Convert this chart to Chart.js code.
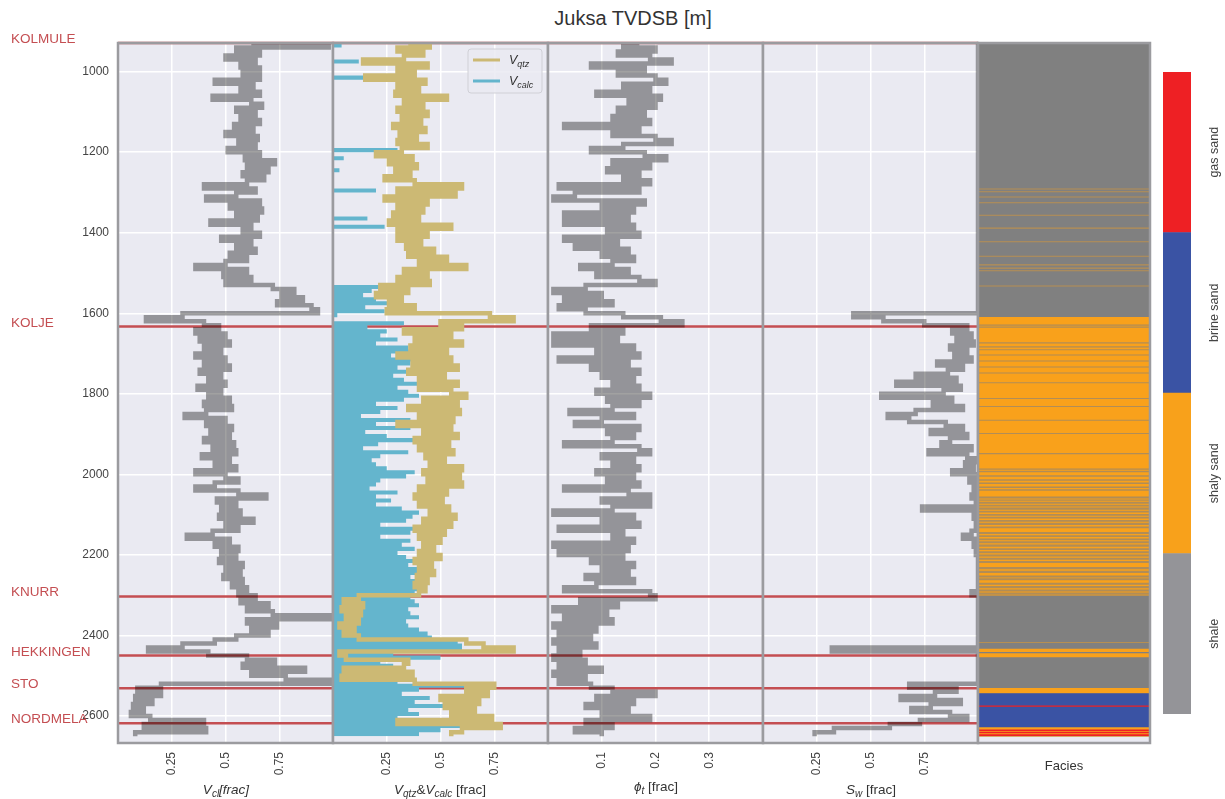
<!DOCTYPE html>
<html>
<head>
<meta charset="utf-8">
<title>Juksa TVDSB</title>
<script src="https://cdn.jsdelivr.net/npm/chart.js@4.4.1/dist/chart.umd.min.js"></script>
<style>
  body { margin: 0; background: #ffffff; }
  #page { position: relative; width: 1225px; height: 799px; overflow: hidden; font-family: "Liberation Sans", Arial, sans-serif; }
  #page canvas { position: absolute; top: 0; }
  .txt { position: absolute; color: #333333; font-size: 13.5px; white-space: nowrap; transform: translate(-50%, -50%); }
  .txt sub { font-size: 10px; vertical-align: -3px; }
  #title { font-size: 20px; color: #333333; }
</style>
</head>
<body>
<div id="page">
  <div id="title" class="txt" style="left:633px; top:18px;">Juksa TVDSB [m]</div>

  <canvas id="trackVcl" width="337" height="799" style="left:0px;"></canvas>
  <canvas id="trackVmin" width="223" height="799" style="left:329px;"></canvas>
  <canvas id="trackPhi" width="223" height="799" style="left:544px;"></canvas>
  <canvas id="trackSw" width="223" height="799" style="left:759px;"></canvas>
  <canvas id="trackFacies" width="180" height="799" style="left:974px;"></canvas>
  <canvas id="faciesBar" width="75" height="799" style="left:1150px;"></canvas>

  <div class="txt" style="left:226px; top:790px;"><i>V</i><sub><i>cl</i></sub><i>[frac]</i></div>
  <div class="txt" style="left:440px; top:790px;"><i>V</i><sub><i>qtz</i></sub>&amp;<i>V</i><sub><i>calc</i></sub> [frac]</div>
  <div class="txt" style="left:656px; top:787px;"><i>ϕ</i><sub><i>t</i></sub> [frac]</div>
  <div class="txt" style="left:871px; top:790px;"><i>S</i><sub><i>w</i></sub> [frac]</div>
  <div class="txt" style="left:1064px; top:765px; font-size:13px;">Facies</div>
</div>

<script>
// === DỮ LIỆU ===
// depth sampling of the logs (m, TVDSB): first sample and spacing
const DEPTH_TOP = 930;
const DEPTH_STEP = 10;
const DEPTH_MIN = 929;
const DEPTH_MAX = 2667;
const DEPTH_TICKS = [1000, 1200, 1400, 1600, 1800, 2000, 2200, 2400, 2600];
const FRAC_TICKS = [0.25, 0.5, 0.75];
const PHI_TICKS = [0.1, 0.2, 0.3];

const FORMATION_NAMES = ['KOLMULE', 'KOLJE', 'KNURR', 'HEKKINGEN', 'STO', 'NORDMELA'];
const FORMATION_TOPS = [929, 1633, 2303, 2450, 2531, 2618];

// clay volume, 930 m .. 2650 m
const VCL = [
  0.62, 0.98, 0.55, 0.66, 0.50, 0.64, 0.57, 0.66, 0.58, 0.66,
  0.45, 0.63, 0.57, 0.66, 0.44, 0.62, 0.67, 0.55, 0.64, 0.57,
  0.66, 0.54, 0.63, 0.50, 0.65, 0.56, 0.64, 0.51, 0.66, 0.59,
  0.73, 0.60, 0.70, 0.58, 0.68, 0.60, 0.40, 0.64, 0.55, 0.41,
  0.66, 0.52, 0.67, 0.55, 0.65, 0.43, 0.62, 0.58, 0.66, 0.48,
  0.62, 0.55, 0.64, 0.52, 0.60, 0.50, 0.36, 0.60, 0.49, 0.62,
  0.50, 0.72, 0.82, 0.76, 0.86, 0.74, 0.90, 0.93, 0.30, 0.13,
  0.40, 0.47, 0.36, 0.50, 0.38, 0.52, 0.40, 0.48, 0.36, 0.50,
  0.40, 0.52, 0.38, 0.48, 0.42, 0.50, 0.37, 0.48, 0.42, 0.52,
  0.40, 0.53, 0.41, 0.31, 0.50, 0.41, 0.53, 0.43, 0.52, 0.40,
  0.54, 0.44, 0.55, 0.39, 0.52, 0.45, 0.55, 0.36, 0.50, 0.56,
  0.45, 0.36, 0.56, 0.69, 0.46, 0.55, 0.48, 0.57, 0.47, 0.63,
  0.50, 0.56, 0.44, 0.32, 0.52, 0.45, 0.56, 0.48, 0.55, 0.47,
  0.58, 0.50, 0.57, 0.49, 0.58, 0.53, 0.60, 0.56, 0.64, 0.57,
  0.70, 0.60, 0.72, 1.00, 0.60, 0.74, 0.62, 0.70, 0.55, 0.45,
  0.30, 0.14, 0.42, 0.60, 0.73, 0.58, 0.87, 0.62, 0.78, 1.00,
  0.20, 0.09, 0.20, 0.08, 0.16, 0.07, 0.12, 0.06, 0.15, 0.40,
  0.12, 0.41, 0.08
];

// quartz volume
const VQTZ = [
  0.35, 0.45, 0.30, 0.42, 0.33, 0.14, 0.44, 0.30, 0.38, 0.15,
  0.43, 0.30, 0.40, 0.29, 0.53, 0.33, 0.42, 0.30, 0.44, 0.32,
  0.41, 0.28, 0.43, 0.31, 0.39, 0.30, 0.44, 0.32, 0.20, 0.37,
  0.26, 0.39, 0.29, 0.36, 0.24, 0.38, 0.60, 0.30, 0.57, 0.24,
  0.44, 0.30, 0.42, 0.28, 0.40, 0.26, 0.55, 0.30, 0.44, 0.30,
  0.41, 0.34, 0.47, 0.35, 0.53, 0.40, 0.62, 0.33, 0.44, 0.30,
  0.45, 0.22, 0.35, 0.20, 0.32, 0.26, 0.38, 0.25, 0.73, 0.84,
  0.50, 0.60, 0.33, 0.55, 0.38, 0.60, 0.36, 0.53, 0.30, 0.55,
  0.37, 0.58, 0.35, 0.52, 0.40, 0.58, 0.40, 0.55, 0.62, 0.42,
  0.58, 0.35, 0.59, 0.40, 0.56, 0.30, 0.55, 0.42, 0.58, 0.38,
  0.54, 0.40, 0.56, 0.43, 0.52, 0.45, 0.60, 0.42, 0.59, 0.44,
  0.60, 0.40, 0.53, 0.38, 0.51, 0.40, 0.54, 0.45, 0.57, 0.42,
  0.55, 0.38, 0.52, 0.40, 0.50, 0.42, 0.47, 0.40, 0.50, 0.38,
  0.46, 0.40, 0.47, 0.39, 0.44, 0.38, 0.43, 0.40, 0.12, 0.05,
  0.14, 0.04, 0.13, 0.06, 0.12, 0.03, 0.10, 0.05, 0.12, 0.62,
  0.70, 0.84, 0.03, 0.06, 0.35, 0.33, 0.05, 0.37, 0.04, 0.38,
  0.75, 0.62, 0.72, 0.50, 0.68, 0.52, 0.66, 0.55, 0.74, 0.30,
  0.78, 0.60, 0.55
];

// calcite volume
const VCALC = [
  0, 0.04, 0, 0, 0, 0.12, 0, 0, 0, 0.15,
  0, 0, 0, 0, 0, 0, 0, 0, 0, 0,
  0, 0, 0, 0, 0, 0, 0, 0.30, 0, 0.05,
  0, 0, 0.03, 0, 0, 0, 0, 0.20, 0, 0,
  0, 0, 0, 0, 0.16, 0, 0.24, 0, 0, 0,
  0, 0, 0, 0, 0, 0, 0, 0, 0, 0,
  0, 0.25, 0.18, 0.14, 0.20, 0.27, 0.15, 0.24, 0.02, 0,
  0.33, 0.16, 0.25, 0.22, 0.30, 0.20, 0.35, 0.38, 0.27, 0.40,
  0.36, 0.30, 0.44, 0.28, 0.33, 0.42, 0.30, 0.35, 0.40, 0.33,
  0.20, 0.30, 0.22, 0.13, 0.36, 0.20, 0.36, 0.15, 0.25, 0.38,
  0.21, 0.14, 0.35, 0.22, 0.18, 0.20, 0.25, 0.38, 0.34, 0.22,
  0.20, 0.17, 0.30, 0.20, 0.27, 0.20, 0.32, 0.40, 0.37, 0.34,
  0.22, 0.38, 0.36, 0.22, 0.36, 0.32, 0.38, 0.30, 0.34, 0.38,
  0.35, 0.40, 0.42, 0.36, 0.40, 0.43, 0.41, 0.38, 0.36, 0.38,
  0.40, 0.35, 0.36, 0.40, 0.34, 0.35, 0.40, 0.44, 0.46, 0.58,
  0.60, 0.60, 0.28, 0.50, 0.22, 0.28, 0.30, 0.26, 0.24, 0.30,
  0.74, 0.40, 0.32, 0.45, 0.38, 0.52, 0.35, 0.40, 0.30, 0.55,
  0.62, 0.50, 0.40
];

// total porosity
const PHIT = [
  0.17, 0.14, 0.20, 0.13, 0.19, 0.23, 0.08, 0.18, 0.13, 0.20,
  0.22, 0.14, 0.19, 0.09, 0.21, 0.15, 0.20, 0.13, 0.18, 0.12,
  0.19, 0.03, 0.17, 0.12, 0.20, 0.23, 0.14, 0.08, 0.18, 0.22,
  0.12, 0.19, 0.11, 0.17, 0.14, 0.19, 0.02, 0.17, 0.05, 0.01,
  0.18, 0.10, 0.16, 0.03, 0.15, 0.03, 0.16, 0.11, 0.17, 0.03,
  0.13, 0.05, 0.15, 0.10, 0.16, 0.12, 0.06, 0.15, 0.09, 0.17,
  0.20, 0.07, 0.01, 0.10, 0.03, 0.12, 0.02, 0.07, 0.14, 0.21,
  0.25, 0.08, 0.14, 0.01, 0.13, 0.01, 0.16, 0.09, 0.17, 0.02,
  0.15, 0.08, 0.17, 0.10, 0.16, 0.12, 0.17, 0.09, 0.19, 0.11,
  0.17, 0.12, 0.04, 0.16, 0.10, 0.05, 0.17, 0.11, 0.16, 0.12,
  0.03, 0.17, 0.19, 0.10, 0.16, 0.12, 0.17, 0.09, 0.16, 0.11,
  0.17, 0.03, 0.15, 0.19, 0.10, 0.19, 0.12, 0.01, 0.16, 0.10,
  0.17, 0.02, 0.14, 0.12, 0.16, 0.01, 0.15, 0.02, 0.14, 0.08,
  0.16, 0.10, 0.15, 0.07, 0.16, 0.09, 0.03, 0.19, 0.20, 0.06,
  0.13, 0.01, 0.11, 0.03, 0.12, 0.01, 0.09, 0.02, 0.08, 0.01,
  0.09, 0.02, 0.06, 0.01, 0.07, 0.02, 0.10, 0.01, 0.07, 0.02,
  0.08, 0.12, 0.20, 0.09, 0.16, 0.07, 0.15, 0.10, 0.19, 0.07,
  0.12, 0.05, 0.10
];

// water saturation
const SW = [
  1, 1, 1, 1, 1, 1, 1, 1, 1, 1,
  1, 1, 1, 1, 1, 1, 1, 1, 1, 1,
  1, 1, 1, 1, 1, 1, 1, 1, 1, 1,
  1, 1, 1, 1, 1, 1, 1, 1, 1, 1,
  1, 1, 1, 1, 1, 1, 1, 1, 1, 1,
  1, 1, 1, 1, 1, 1, 1, 1, 1, 1,
  1, 1, 1, 1, 1, 1, 1, 1, 0.42, 0.56,
  0.75, 0.95, 0.88, 0.97, 0.90, 0.98, 0.87, 0.95, 0.89, 0.97,
  0.81, 0.93, 0.86, 0.71, 0.90, 0.62, 0.92, 0.84, 0.55, 0.88,
  0.79, 0.93, 0.71, 0.58, 0.68, 0.85, 0.93, 0.78, 0.95, 0.87,
  0.83, 0.97, 0.77, 0.95, 1, 0.94, 0.98, 0.88, 1, 0.96,
  1, 0.98, 1, 0.97, 1, 0.99, 0.74, 1, 0.98, 1,
  0.99, 1, 0.97, 0.93, 1, 0.98, 1, 0.99, 1, 1,
  1, 1, 1, 1, 1, 1, 1, 0.97, 1, 1,
  1, 1, 1, 1, 1, 1, 1, 1, 1, 1,
  1, 0.32, 1, 1, 1, 1, 1, 1, 1, 1,
  0.68, 0.90, 0.80, 0.64, 0.92, 0.78, 0.69, 0.87, 0.95, 0.73,
  0.59, 0.33, 0.24
];

// facies beds [top, base] in m
const FACIES_NAMES = ['shale', 'shaly sand', 'brine sand', 'gas sand'];
const SHALE_BEDS = [[929, 2650]];
const SHALY_SAND_STRINGERS = [
  [1291, 1292], [1298, 1299], [1311, 1312], [1325, 1326], [1356, 1357], [1388, 1389.5],
  [1422, 1423], [1458, 1459], [1479, 1480.5], [1487, 1488.5], [1494, 1495], [1532, 1533],
  [2417, 2418]
];
const SHALY_SAND_BEDS = [[1610, 2300], [2434, 2440], [2445, 2453], [2531, 2544], [2627, 2650]];
const SHALE_STREAKS = [
  [1629, 1630], [1634, 1635], [1673, 1674], [1683, 1684], [1690, 1691], [1703, 1704],
  [1718, 1719], [1733, 1734], [1748, 1749], [1772, 1773], [1811, 1812], [1831, 1832],
  [1865, 1866], [1898, 1899], [1948, 1949], [1986, 1988], [1992, 1994], [2003, 2005],
  [2013, 2015], [2021, 2023], [2031, 2033], [2038, 2040],
  [2056, 2059], [2063, 2065], [2069, 2072], [2076, 2079], [2083, 2087], [2091, 2094],
  [2099, 2102], [2106, 2109], [2114, 2117], [2121, 2125], [2130, 2133], [2144, 2147],
  [2152, 2155], [2160, 2163], [2167, 2170], [2175, 2179], [2184, 2187], [2192, 2195],
  [2200, 2203], [2208, 2211], [2216, 2219], [2231, 2235], [2240, 2244], [2252, 2255],
  [2259, 2262], [2270, 2273], [2278, 2282], [2287, 2290], [2294, 2298]
];
const BRINE_SAND_BEDS = [[2544, 2627]];
const GAS_SAND_BEDS = [[2574.5, 2576], [2634.5, 2636.5], [2640, 2642], [2646, 2649]];

// === MÀU SẮC ===
const BG_COLOR = '#EAEAF2';
const FRAME_COLOR = '#9B9B9F';
const GRID_COLOR = '#FFFFFF';
const LOG_COLOR = 'rgba(0, 0, 0, 0.37)';
const VQTZ_COLOR = '#CCB974';
const VCALC_COLOR = '#64B5CD';
const FORMATION_COLOR = '#C44E52';
const TRACK_FACIES_COLORS = ['#808080', '#F9A11B', '#3A53A4', '#EE2024'];
const STRINGER_COLOR = 'rgba(249, 161, 27, 0.45)';
const STREAK_COLOR = 'rgba(128, 128, 128, 0.6)';
const BAR_FACIES_COLORS = ['#949498', '#F8A11B', '#3A53A4', '#EE2024'];
const TEXT_COLOR = '#444444';
const FONT_FAMILY = '"Liberation Sans", Arial, sans-serif';

Chart.defaults.font.family = FONT_FAMILY;
Chart.defaults.color = TEXT_COLOR;

// === HELPER ===
const toCurve = (values) => values.map((v, i) => ({ x: v, y: DEPTH_TOP + i * DEPTH_STEP }));

const trackBackground = {
    id: 'trackBackground',
    beforeDraw(chart) {
        const { ctx, chartArea: a } = chart;
        ctx.save();
        ctx.fillStyle = BG_COLOR;
        ctx.fillRect(a.left, a.top, a.right - a.left, a.bottom - a.top);
        ctx.restore();
    }
};

const trackFrame = {
    id: 'trackFrame',
    afterDraw(chart) {
        const { ctx, chartArea: a } = chart;
        ctx.save();
        ctx.strokeStyle = FRAME_COLOR;
        ctx.lineWidth = 2.5;
        ctx.strokeRect(a.left, a.top, a.right - a.left, a.bottom - a.top);
        ctx.restore();
    }
};

// formation tops drawn under the curves
const formationLines = {
    id: 'formationLines',
    beforeDatasetsDraw(chart) {
        const { ctx, chartArea: a } = chart;
        const yScale = chart.scales.y;
        ctx.save();
        ctx.strokeStyle = FORMATION_COLOR;
        ctx.lineWidth = 2.5;
        FORMATION_TOPS.forEach(d => {
            const py = yScale.getPixelForValue(d);
            ctx.beginPath();
            ctx.moveTo(a.left, py);
            ctx.lineTo(a.right, py);
            ctx.stroke();
        });
        ctx.restore();
    }
};

const formationLabels = {
    id: 'formationLabels',
    afterDraw(chart) {
        const { ctx } = chart;
        const yScale = chart.scales.y;
        ctx.save();
        ctx.fillStyle = FORMATION_COLOR;
        ctx.font = '13.5px ' + FONT_FAMILY;
        ctx.textAlign = 'left';
        ctx.textBaseline = 'alphabetic';
        FORMATION_NAMES.forEach((name, i) => {
            ctx.fillText(name, 11, yScale.getPixelForValue(FORMATION_TOPS[i]));
        });
        ctx.restore();
    }
};

// legend box inside the Vqtz/Vcalc track (italic V with subscript)
const mineralLegend = {
    id: 'mineralLegend',
    afterDraw(chart) {
        const { ctx, chartArea: a } = chart;
        const x0 = a.right - 80, y0 = a.top + 6, w = 74, h = 44;
        ctx.save();
        ctx.fillStyle = 'rgba(234, 234, 242, 0.85)';
        ctx.strokeStyle = '#D0D0D6';
        ctx.lineWidth = 1;
        ctx.beginPath();
        ctx.roundRect(x0, y0, w, h, 3);
        ctx.fill();
        ctx.stroke();
        const entries = [['qtz', VQTZ_COLOR], ['calc', VCALC_COLOR]];
        entries.forEach(([sub, color], i) => {
            const ly = y0 + 11 + i * 21;
            ctx.strokeStyle = color;
            ctx.lineWidth = 3;
            ctx.beginPath();
            ctx.moveTo(x0 + 5, ly);
            ctx.lineTo(x0 + 32, ly);
            ctx.stroke();
            ctx.fillStyle = '#333333';
            ctx.textBaseline = 'alphabetic';
            ctx.font = 'italic 12.5px ' + FONT_FAMILY;
            ctx.fillText('V', x0 + 41, ly + 4);
            const vw = ctx.measureText('V').width;
            ctx.font = 'italic 9px ' + FONT_FAMILY;
            ctx.fillText(sub, x0 + 41 + vw, ly + 7);
        });
        ctx.restore();
    }
};

const makeTrack = (canvasId, datasets, xMax, xTicks, withDepth, extraPlugins) => {
    return new Chart(document.getElementById(canvasId), {
        type: 'line',
        data: { datasets: datasets },
        options: {
            responsive: false,
            animation: false,
            indexAxis: 'y',
            layout: { padding: { top: 43, bottom: 0, left: withDepth ? 0 : 4, right: 4 } },
            plugins: { legend: { display: false }, tooltip: { enabled: false } },
            elements: { point: { radius: 0 } },
            scales: {
                x: {
                    type: 'linear',
                    position: 'bottom',
                    min: 0,
                    max: xMax,
                    afterBuildTicks: (scale) => { scale.ticks = xTicks.map(v => ({ value: v })); },
                    afterFit: (scale) => { scale.height = 56; },
                    grid: { color: GRID_COLOR, lineWidth: 1.5, drawTicks: false },
                    border: { display: false },
                    ticks: {
                        minRotation: 90,
                        maxRotation: 90,
                        padding: 9,
                        font: { size: 12 },
                        callback: (value) => String(value)
                    }
                },
                y: {
                    type: 'linear',
                    reverse: true,
                    min: DEPTH_MIN,
                    max: DEPTH_MAX,
                    afterBuildTicks: (scale) => { scale.ticks = DEPTH_TICKS.map(v => ({ value: v })); },
                    afterFit: (scale) => { scale.width = withDepth ? 118 : 0; },
                    grid: { color: GRID_COLOR, lineWidth: 1.5, drawTicks: false },
                    border: { display: false },
                    ticks: {
                        display: withDepth,
                        padding: 9,
                        font: { size: 12 },
                        callback: (value) => String(value)
                    }
                }
            }
        },
        plugins: [trackBackground, formationLines, trackFrame].concat(extraPlugins || [])
    });
};

const logLine = (values, color, extra) => Object.assign({
    data: toCurve(values),
    borderColor: color,
    backgroundColor: color,
    borderWidth: 4.5,
    borderJoinStyle: 'miter',
    stepped: true,
    fill: false,
    pointRadius: 0
}, extra || {});

// === VẼ CÁC TRACK ===
makeTrack('trackVcl', [logLine(VCL, LOG_COLOR)], 1, FRAC_TICKS, true, [formationLabels]);

makeTrack('trackVmin', [
    logLine(VQTZ, VQTZ_COLOR),
    logLine(VCALC, VCALC_COLOR, { fill: 'origin', borderWidth: 0 })
], 1, FRAC_TICKS, false, [mineralLegend]);

makeTrack('trackPhi', [logLine(PHIT, LOG_COLOR)], 0.4, PHI_TICKS, false);

makeTrack('trackSw', [logLine(SW, LOG_COLOR)], 1, FRAC_TICKS, false);

// facies track: floating bars, one per bed, all on the same category
const faciesLayers = [
    { beds: SHALE_BEDS, color: TRACK_FACIES_COLORS[0] },
    { beds: SHALY_SAND_STRINGERS, color: STRINGER_COLOR },
    { beds: SHALY_SAND_BEDS, color: TRACK_FACIES_COLORS[1] },
    { beds: SHALE_STREAKS, color: STREAK_COLOR },
    { beds: BRINE_SAND_BEDS, color: TRACK_FACIES_COLORS[2] },
    { beds: GAS_SAND_BEDS, color: TRACK_FACIES_COLORS[3] }
];
const faciesDatasets = [];
faciesLayers.forEach((layer, li) => {
    layer.beds.forEach(bed => {
        faciesDatasets.push({
            data: [bed],
            backgroundColor: layer.color,
            borderWidth: 0,
            grouped: false,
            barPercentage: 1,
            categoryPercentage: 1,
            order: faciesLayers.length - li
        });
    });
});

new Chart(document.getElementById('trackFacies'), {
    type: 'bar',
    data: { labels: ['Facies'], datasets: faciesDatasets },
    options: {
        responsive: false,
        animation: false,
        layout: { padding: { top: 43, bottom: 0, left: 4, right: 4 } },
        plugins: { legend: { display: false }, tooltip: { enabled: false } },
        scales: {
            x: {
                afterFit: (scale) => { scale.height = 56; },
                grid: { display: false },
                border: { display: false },
                ticks: { display: false }
            },
            y: {
                type: 'linear',
                reverse: true,
                min: DEPTH_MIN,
                max: DEPTH_MAX,
                afterFit: (scale) => { scale.width = 0; },
                grid: { display: false },
                border: { display: false },
                ticks: { display: false }
            }
        }
    },
    plugins: [trackBackground, trackFrame]
});

// colour bar for the facies classes
const colorbarLabels = {
    id: 'colorbarLabels',
    afterDraw(chart) {
        const { ctx, chartArea: a } = chart;
        const yScale = chart.scales.y;
        ctx.save();
        ctx.fillStyle = TEXT_COLOR;
        ctx.font = '12.5px ' + FONT_FAMILY;
        ctx.textAlign = 'center';
        ctx.textBaseline = 'middle';
        FACIES_NAMES.forEach((name, i) => {
            ctx.save();
            ctx.translate(a.right + 24, yScale.getPixelForValue(i + 0.5));
            ctx.rotate(-Math.PI / 2);
            ctx.fillText(name, 0, 0);
            ctx.restore();
        });
        ctx.restore();
    }
};

new Chart(document.getElementById('faciesBar'), {
    type: 'bar',
    data: {
        labels: ['facies'],
        datasets: FACIES_NAMES.map((name, i) => ({
            label: name,
            data: [1],
            backgroundColor: BAR_FACIES_COLORS[i],
            borderWidth: 0,
            barPercentage: 1,
            categoryPercentage: 1
        }))
    },
    options: {
        responsive: false,
        animation: false,
        layout: { padding: { top: 72, bottom: 85, left: 13, right: 34 } },
        plugins: { legend: { display: false }, tooltip: { enabled: false } },
        scales: {
            x: { display: false, stacked: true },
            y: { display: false, stacked: true, min: 0, max: FACIES_NAMES.length }
        }
    },
    plugins: [colorbarLabels]
});
</script>
</body>
</html>
